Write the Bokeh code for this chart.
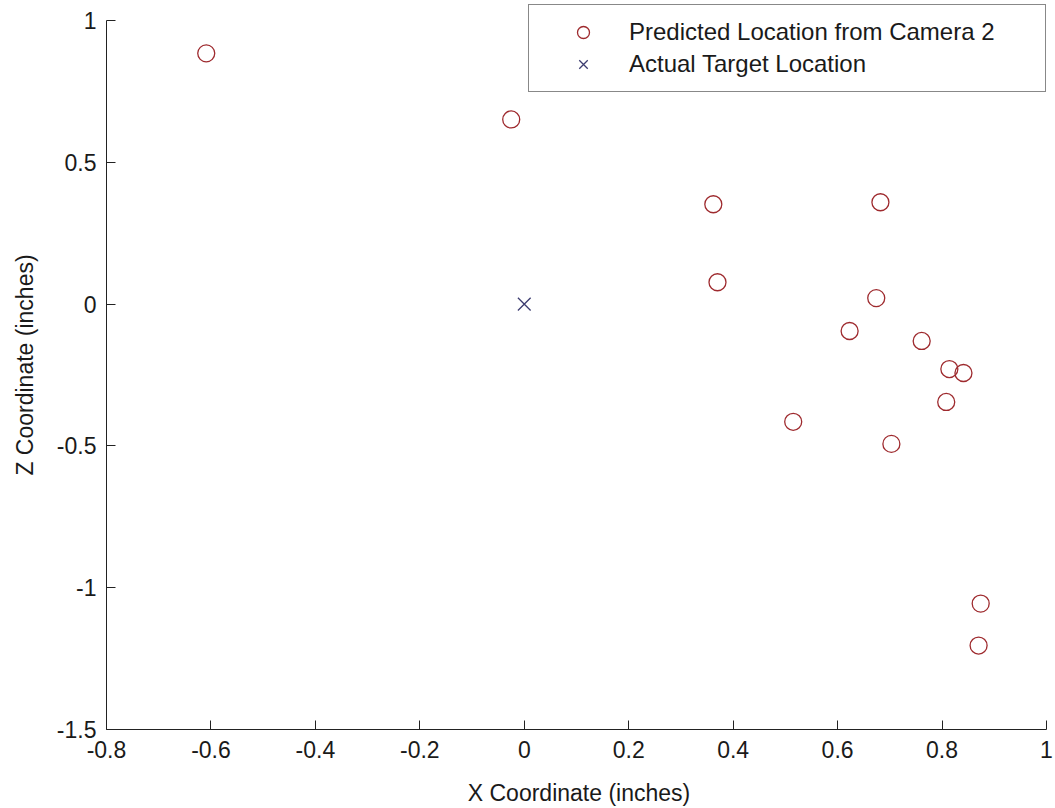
from bokeh.plotting import figure
from bokeh.models import Range1d, FixedTicker, Legend, LegendItem
from bokeh.embed import file_html
from bokeh.resources import INLINE

# Predicted locations from camera 2 (inches)
pred_x = [-0.609, -0.025, 0.362, 0.682, 0.370, 0.674, 0.623, 0.761, 0.814, 0.841,
          0.808, 0.515, 0.703, 0.874, 0.870]
pred_z = [0.884, 0.651, 0.352, 0.359, 0.077, 0.021, -0.095, -0.130, -0.229, -0.243,
          -0.345, -0.415, -0.493, -1.056, -1.204]
# Actual target location
actual_x = [0.0]
actual_z = [0.0]

x_ticks = [-0.8, -0.6, -0.4, -0.2, 0, 0.2, 0.4, 0.6, 0.8, 1]
x_tick_labels = ["-0.8", "-0.6", "-0.4", "-0.2", "0", "0.2", "0.4", "0.6", "0.8", "1"]
y_ticks = [-1.5, -1, -0.5, 0, 0.5, 1]
y_tick_labels = ["-1.5", "-1", "-0.5", "0", "0.5", "1"]

series_names = ["Predicted Location from Camera 2", "Actual Target Location"]

FONT = "Liberation Sans"
TXT = "#1a1a1a"

# axes limits (data); the frame gets a little extra room above/right for the legend box
x_lim = (-0.8, 1.0)
y_lim = (-1.5, 1.0)

p = figure(width=1053, height=808,
           min_border_left=106, min_border_right=2, min_border_top=0, min_border_bottom=78,
           x_range=Range1d(x_lim[0], 1.0096), y_range=Range1d(y_lim[0], 1.0704),
           output_backend="svg", toolbar_location=None,
           background_fill_color="white", border_fill_color="white")
p.outline_line_color = None
p.xgrid.visible = False
p.ygrid.visible = False

r_pred = p.scatter(pred_x, pred_z, marker="circle", size=17, fill_color=None,
                   line_color="#9e2a2e", line_width=1.3)
r_act = p.scatter(actual_x, actual_z, marker="x", size=18,
                  line_color="#3c3c70", line_width=1.3)

for ax, ticks, labels, lim in ((p.xaxis[0], x_ticks, x_tick_labels, x_lim),
                               (p.yaxis[0], y_ticks, y_tick_labels, y_lim)):
    ax.ticker = FixedTicker(ticks=ticks)
    ax.bounds = lim
    ax.major_label_overrides = {t: l for t, l in zip(ticks, labels)}
    ax.minor_tick_line_color = None
    ax.major_tick_in = 9
    ax.major_tick_out = 0
    ax.axis_line_color = "#222222"
    ax.major_tick_line_color = "#222222"
    ax.major_label_text_font = FONT
    ax.major_label_text_font_size = "23px"
    ax.major_label_text_color = TXT
    ax.axis_label_text_font = FONT
    ax.axis_label_text_font_size = "23px"
    ax.axis_label_text_font_style = "normal"
    ax.axis_label_text_color = TXT

p.xaxis.axis_label = "X Coordinate (inches)"
p.yaxis.axis_label = "Z Coordinate (inches)"
p.xaxis.major_label_standoff = 11
p.xaxis.axis_label_standoff = 19
p.yaxis.major_label_standoff = 10
p.yaxis.axis_label_standoff = 16

legend = Legend(items=[LegendItem(label=series_names[0], renderers=[r_pred]),
                       LegendItem(label=series_names[1], renderers=[r_act])],
                location=(422, 637),
                label_text_font=FONT, label_text_font_size="24px", label_text_color=TXT,
                glyph_width=84, glyph_height=30, label_standoff=4, label_width=404,
                label_height=30, spacing=2, padding=12, margin=0,
                border_line_color="#111111", border_line_width=1,
                background_fill_color="white", background_fill_alpha=1.0)
p.add_layout(legend)

open("out.html", "w").write(file_html(p, INLINE))
